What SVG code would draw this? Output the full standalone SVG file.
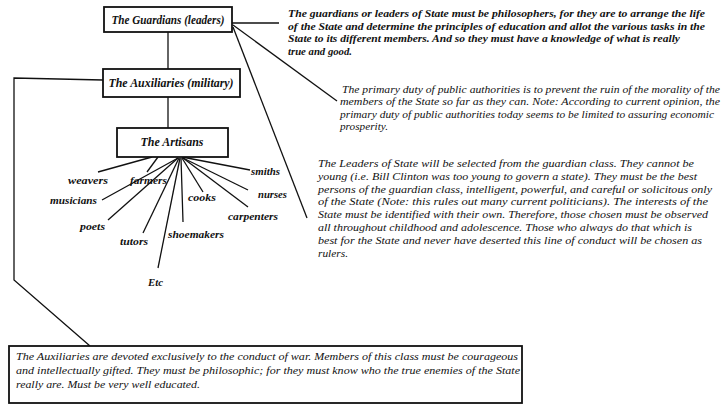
<svg xmlns="http://www.w3.org/2000/svg" width="728" height="408" viewBox="0 0 728 408">
<style>
text{font-family:"Liberation Serif","Times New Roman","DejaVu Serif",serif;font-style:italic;fill:#111}
.box{fill:#fff;stroke:#111;stroke-width:1.8}
.lbl{font-weight:bold;font-size:12px;text-anchor:middle}
.art{font-weight:bold;font-size:11px}
.p1{font-weight:bold;font-size:11px}
.p{font-size:11px}
.c{stroke:#111;stroke-width:1.3;fill:none}
</style>
<rect width="728" height="408" fill="#fff"/>
<g id="connectors">
<line class="c" x1="168" y1="32" x2="168" y2="69"/>
<line class="c" x1="168" y1="97" x2="168" y2="128"/>
<line class="c" x1="232" y1="23" x2="279" y2="23"/>
<line class="c" x1="233" y1="25" x2="337" y2="101"/>
<line class="c" x1="233" y1="27" x2="307" y2="218"/>
<polyline class="c" points="103,80 14,78 14,280 90,346"/>
<line class="c" x1="152" y1="157" x2="98" y2="172"/>
<line class="c" x1="158" y1="157" x2="147" y2="172"/>
<line class="c" x1="178" y1="158" x2="102" y2="200"/>
<line class="c" x1="178" y1="158" x2="108" y2="220"/>
<line class="c" x1="179" y1="158" x2="143" y2="233"/>
<line class="c" x1="180" y1="158" x2="158" y2="268"/>
<line class="c" x1="181" y1="158" x2="183" y2="222"/>
<line class="c" x1="182" y1="158" x2="203" y2="192"/>
<line class="c" x1="183" y1="158" x2="248" y2="207"/>
<line class="c" x1="183" y1="158" x2="248" y2="190"/>
<line class="c" x1="182" y1="157" x2="250" y2="170"/>
</g>
<g id="guardians">
<rect class="box" x="104" y="7" width="128" height="25"/>
<text class="lbl" x="168" y="24" textLength="113" lengthAdjust="spacingAndGlyphs">The Guardians (leaders)</text>
</g>
<g id="auxiliaries">
<rect class="box" x="103" y="69" width="137" height="28"/>
<text class="lbl" x="171" y="87" textLength="125" lengthAdjust="spacingAndGlyphs">The Auxiliaries (military)</text>
</g>
<g id="artisans">
<rect class="box" x="117" y="128" width="111" height="29"/>
<text class="lbl" x="172" y="146" textLength="63" lengthAdjust="spacingAndGlyphs">The Artisans</text>
</g>
<g id="artisan-weavers"><text class="art" x="68" y="184" textLength="40" lengthAdjust="spacingAndGlyphs">weavers</text></g>
<g id="artisan-farmers"><text class="art" x="130" y="184" textLength="37" lengthAdjust="spacingAndGlyphs">farmers</text></g>
<g id="artisan-musicians"><text class="art" x="50" y="204" textLength="47" lengthAdjust="spacingAndGlyphs">musicians</text></g>
<g id="artisan-poets"><text class="art" x="80" y="230" textLength="25" lengthAdjust="spacingAndGlyphs">poets</text></g>
<g id="artisan-tutors"><text class="art" x="120" y="245" textLength="28" lengthAdjust="spacingAndGlyphs">tutors</text></g>
<g id="artisan-etc"><text class="art" x="148" y="286" textLength="15" lengthAdjust="spacingAndGlyphs">Etc</text></g>
<g id="artisan-shoemakers"><text class="art" x="168" y="238" textLength="56" lengthAdjust="spacingAndGlyphs">shoemakers</text></g>
<g id="artisan-cooks"><text class="art" x="188" y="201" textLength="28" lengthAdjust="spacingAndGlyphs">cooks</text></g>
<g id="artisan-carpenters"><text class="art" x="228" y="220" textLength="50" lengthAdjust="spacingAndGlyphs">carpenters</text></g>
<g id="artisan-nurses"><text class="art" x="258" y="198" textLength="29" lengthAdjust="spacingAndGlyphs">nurses</text></g>
<g id="artisan-smiths"><text class="art" x="251" y="175" textLength="29" lengthAdjust="spacingAndGlyphs">smiths</text></g>
<g id="note-guardians">
<text class="p1" x="288" y="17" textLength="417" lengthAdjust="spacingAndGlyphs">The guardians or leaders of State must be philosophers, for they are to arrange the life</text>
<text class="p1" x="288" y="30" textLength="417" lengthAdjust="spacingAndGlyphs">of the State and determine the principles of education and allot the various tasks in the</text>
<text class="p1" x="288" y="42" textLength="392" lengthAdjust="spacingAndGlyphs">State to its different members. And so they must have a knowledge of what is really</text>
<text class="p1" x="288" y="55" textLength="64" lengthAdjust="spacingAndGlyphs">true and good.</text>
</g>
<g id="note-authorities">
<text class="p" x="342" y="93" textLength="378" lengthAdjust="spacingAndGlyphs">The primary duty of public authorities is to prevent the ruin of the morality of the</text>
<text class="p" x="340" y="105" textLength="380" lengthAdjust="spacingAndGlyphs">members of the State so far as they can.  Note: According to current opinion, the</text>
<text class="p" x="340" y="118" textLength="374" lengthAdjust="spacingAndGlyphs">primary duty of public authorities today seems to be limited to assuring economic</text>
<text class="p" x="340" y="130" textLength="48" lengthAdjust="spacingAndGlyphs">prosperity.</text>
</g>
<g id="note-leaders">
<text class="p" x="318" y="167" textLength="376" lengthAdjust="spacingAndGlyphs">The Leaders of State will be selected from the guardian class.  They cannot be</text>
<text class="p" x="318" y="180" textLength="379" lengthAdjust="spacingAndGlyphs">young (i.e. Bill Clinton was too young to govern a state).  They must be the best</text>
<text class="p" x="318" y="193" textLength="394" lengthAdjust="spacingAndGlyphs">persons of the guardian class, intelligent, powerful, and careful or solicitous only</text>
<text class="p" x="318" y="205" textLength="390" lengthAdjust="spacingAndGlyphs">of the State (Note: this rules out many current politicians).  The interests of the</text>
<text class="p" x="318" y="218" textLength="390" lengthAdjust="spacingAndGlyphs">State must be identified with their own.  Therefore, those chosen must be observed</text>
<text class="p" x="318" y="231" textLength="374" lengthAdjust="spacingAndGlyphs">all throughout childhood and adolescence.  Those who always do that which is</text>
<text class="p" x="318" y="244" textLength="384" lengthAdjust="spacingAndGlyphs">best for the State and never have deserted this line of conduct will be chosen as</text>
<text class="p" x="318" y="257" textLength="30" lengthAdjust="spacingAndGlyphs">rulers.</text>
</g>
<g id="note-auxiliaries">
<rect class="box" x="9" y="346" width="513" height="57"/>
<text class="p" x="16" y="360" textLength="502" lengthAdjust="spacingAndGlyphs">The Auxiliaries are devoted exclusively to the conduct of war.  Members of this class must be courageous</text>
<text class="p" x="16" y="374" textLength="504" lengthAdjust="spacingAndGlyphs">and intellectually gifted.  They must be philosophic; for they must know who the true enemies of the State</text>
<text class="p" x="16" y="388" textLength="184" lengthAdjust="spacingAndGlyphs">really are.  Must be very well educated.</text>
</g>
</svg>
